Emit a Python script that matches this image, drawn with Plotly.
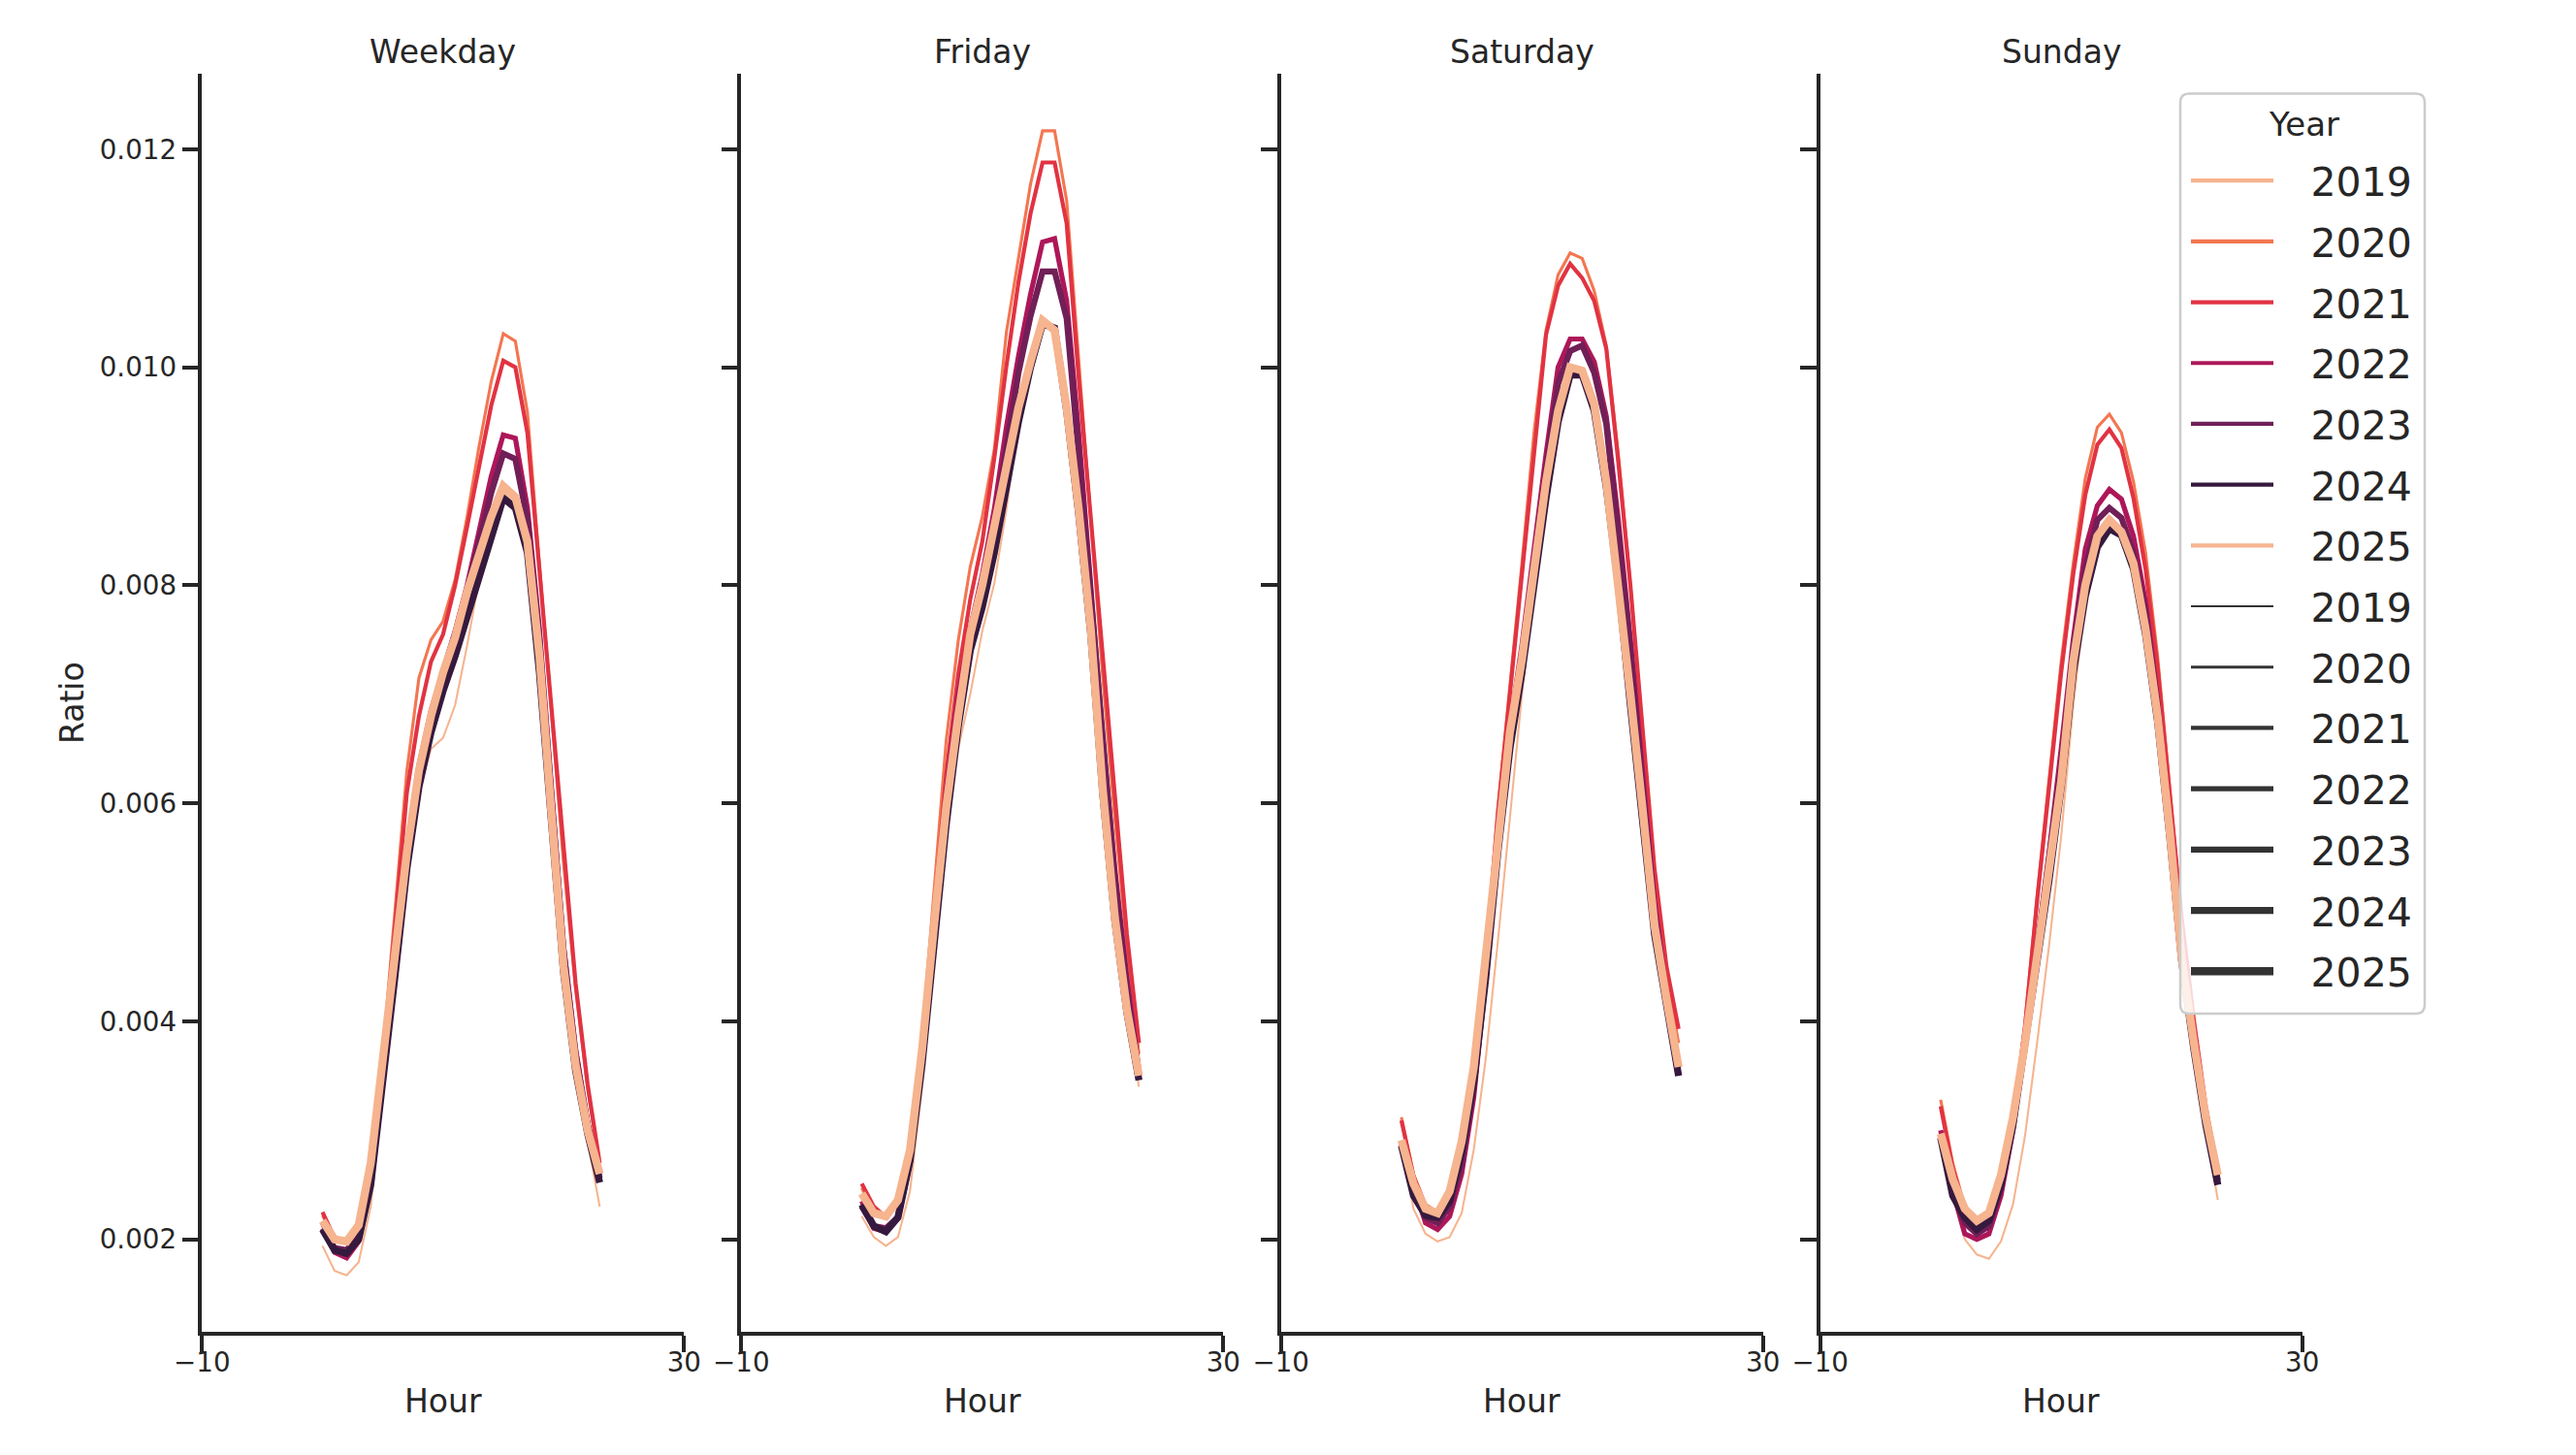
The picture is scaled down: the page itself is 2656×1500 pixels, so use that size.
import plotly.graph_objects as go

# ---------------- data ----------------
hours = list(range(24))
years = [2019, 2020, 2021, 2022, 2023, 2024, 2025]
panels = ["Weekday", "Friday", "Saturday", "Sunday"]
x_ticks = [-10, 30]
x_tick_labels = ["\u221210", "30"]
y_ticks = [0.002, 0.004, 0.006, 0.008, 0.010, 0.012]
y_tick_labels = ["0.002", "0.004", "0.006", "0.008", "0.010", "0.012"]

weekday_2019 = [0.00194, 0.00171, 0.00167, 0.00179, 0.00230, 0.00330, 0.00440, 0.00545, 0.00610, 0.00650, 0.00660, 0.00690, 0.00745, 0.00806, 0.00856, 0.00885, 0.00875, 0.00835, 0.00725, 0.00580, 0.00445, 0.00350, 0.00290, 0.00230]
weekday_2020 = [0.00222, 0.00200, 0.00199, 0.00213, 0.00270, 0.00370, 0.00500, 0.00630, 0.00715, 0.00750, 0.00767, 0.00805, 0.00863, 0.00928, 0.00987, 0.01031, 0.01024, 0.00959, 0.00820, 0.00680, 0.00545, 0.00430, 0.00338, 0.00265]
weekday_2021 = [0.00225, 0.00201, 0.00197, 0.00210, 0.00268, 0.00365, 0.00485, 0.00610, 0.00680, 0.00730, 0.00755, 0.00800, 0.00854, 0.00909, 0.00965, 0.01006, 0.01000, 0.00940, 0.00815, 0.00690, 0.00555, 0.00435, 0.00342, 0.00270]
weekday_2022 = [0.00215, 0.00188, 0.00183, 0.00198, 0.00250, 0.00345, 0.00455, 0.00555, 0.00635, 0.00685, 0.00722, 0.00758, 0.00800, 0.00850, 0.00900, 0.00938, 0.00935, 0.00871, 0.00760, 0.00615, 0.00470, 0.00375, 0.00308, 0.00258]
weekday_2023 = [0.00210, 0.00192, 0.00190, 0.00204, 0.00258, 0.00350, 0.00455, 0.00555, 0.00630, 0.00680, 0.00720, 0.00755, 0.00795, 0.00840, 0.00885, 0.00921, 0.00916, 0.00860, 0.00750, 0.00605, 0.00465, 0.00370, 0.00305, 0.00256]
weekday_2024 = [0.00209, 0.00190, 0.00187, 0.00200, 0.00250, 0.00340, 0.00440, 0.00540, 0.00615, 0.00665, 0.00703, 0.00735, 0.00770, 0.00808, 0.00845, 0.00880, 0.00871, 0.00830, 0.00720, 0.00575, 0.00445, 0.00355, 0.00297, 0.00252]
weekday_2025 = [0.00217, 0.00200, 0.00198, 0.00213, 0.00270, 0.00362, 0.00460, 0.00555, 0.00630, 0.00680, 0.00720, 0.00752, 0.00794, 0.00829, 0.00863, 0.00891, 0.00881, 0.00840, 0.00735, 0.00590, 0.00450, 0.00360, 0.00300, 0.00260]

friday_2019 = [0.00221, 0.00202, 0.00194, 0.00202, 0.00244, 0.00340, 0.00460, 0.00575, 0.00650, 0.00700, 0.00758, 0.00802, 0.00870, 0.00950, 0.01000, 0.01045, 0.01030, 0.00955, 0.00865, 0.00755, 0.00605, 0.00490, 0.00405, 0.00340]
friday_2020 = [0.00247, 0.00225, 0.00220, 0.00238, 0.00290, 0.00385, 0.00520, 0.00657, 0.00749, 0.00817, 0.00863, 0.00925, 0.01032, 0.01101, 0.01168, 0.01217, 0.01217, 0.01153, 0.01010, 0.00860, 0.00715, 0.00585, 0.00470, 0.00370]
friday_2021 = [0.00251, 0.00230, 0.00220, 0.00233, 0.00280, 0.00370, 0.00500, 0.00626, 0.00718, 0.00787, 0.00840, 0.00917, 0.01001, 0.01078, 0.01141, 0.01188, 0.01188, 0.01132, 0.00990, 0.00860, 0.00735, 0.00600, 0.00480, 0.00380]
friday_2022 = [0.00235, 0.00210, 0.00207, 0.00220, 0.00270, 0.00360, 0.00490, 0.00610, 0.00700, 0.00760, 0.00810, 0.00870, 0.00945, 0.01010, 0.01067, 0.01115, 0.01118, 0.01061, 0.00940, 0.00800, 0.00660, 0.00540, 0.00440, 0.00355]
friday_2023 = [0.00230, 0.00212, 0.00210, 0.00220, 0.00272, 0.00362, 0.00480, 0.00595, 0.00680, 0.00745, 0.00795, 0.00855, 0.00925, 0.00995, 0.01047, 0.01088, 0.01088, 0.01045, 0.00920, 0.00790, 0.00650, 0.00530, 0.00430, 0.00350]
friday_2024 = [0.00232, 0.00212, 0.00207, 0.00220, 0.00272, 0.00360, 0.00470, 0.00580, 0.00670, 0.00740, 0.00780, 0.00830, 0.00890, 0.00950, 0.01000, 0.01040, 0.01036, 0.00960, 0.00865, 0.00755, 0.00608, 0.00492, 0.00408, 0.00346]
friday_2025 = [0.00242, 0.00224, 0.00221, 0.00236, 0.00282, 0.00374, 0.00488, 0.00596, 0.00680, 0.00755, 0.00800, 0.00852, 0.00909, 0.00963, 0.01005, 0.01043, 0.01034, 0.00963, 0.00870, 0.00760, 0.00612, 0.00495, 0.00411, 0.00350]

saturday_2019 = [0.00290, 0.00228, 0.00205, 0.00198, 0.00202, 0.00224, 0.00282, 0.00366, 0.00473, 0.00590, 0.00700, 0.00800, 0.00885, 0.00955, 0.00998, 0.00995, 0.00962, 0.00892, 0.00800, 0.00695, 0.00590, 0.00485, 0.00420, 0.00360]
saturday_2020 = [0.00312, 0.00260, 0.00232, 0.00225, 0.00242, 0.00290, 0.00360, 0.00460, 0.00595, 0.00705, 0.00820, 0.00940, 0.01034, 0.01085, 0.01105, 0.01100, 0.01070, 0.01020, 0.00920, 0.00800, 0.00660, 0.00530, 0.00440, 0.00380]
saturday_2021 = [0.00309, 0.00258, 0.00230, 0.00222, 0.00240, 0.00288, 0.00358, 0.00458, 0.00590, 0.00700, 0.00810, 0.00920, 0.01030, 0.01075, 0.01095, 0.01082, 0.01061, 0.01017, 0.00913, 0.00800, 0.00670, 0.00540, 0.00450, 0.00393]
saturday_2022 = [0.00290, 0.00250, 0.00215, 0.00209, 0.00221, 0.00260, 0.00330, 0.00440, 0.00565, 0.00670, 0.00745, 0.00835, 0.00920, 0.01000, 0.01026, 0.01026, 0.01005, 0.00955, 0.00860, 0.00750, 0.00625, 0.00510, 0.00425, 0.00360]
saturday_2023 = [0.00288, 0.00245, 0.00220, 0.00215, 0.00230, 0.00270, 0.00340, 0.00445, 0.00565, 0.00665, 0.00735, 0.00825, 0.00905, 0.00985, 0.01015, 0.01020, 0.00995, 0.00948, 0.00848, 0.00741, 0.00615, 0.00500, 0.00420, 0.00358]
saturday_2024 = [0.00286, 0.00240, 0.00222, 0.00220, 0.00235, 0.00280, 0.00345, 0.00440, 0.00555, 0.00650, 0.00720, 0.00805, 0.00880, 0.00950, 0.00993, 0.00993, 0.00960, 0.00890, 0.00800, 0.00690, 0.00585, 0.00480, 0.00415, 0.00350]
saturday_2025 = [0.00291, 0.00251, 0.00228, 0.00224, 0.00244, 0.00290, 0.00358, 0.00458, 0.00570, 0.00665, 0.00732, 0.00818, 0.00895, 0.00960, 0.01000, 0.00997, 0.00966, 0.00895, 0.00803, 0.00700, 0.00596, 0.00488, 0.00420, 0.00358]

sunday_2019 = [0.00290, 0.00240, 0.00200, 0.00186, 0.00182, 0.00198, 0.00232, 0.00295, 0.00380, 0.00470, 0.00570, 0.00690, 0.00785, 0.00840, 0.00858, 0.00850, 0.00818, 0.00758, 0.00675, 0.00570, 0.00455, 0.00375, 0.00300, 0.00236]
sunday_2020 = [0.00328, 0.00270, 0.00230, 0.00212, 0.00212, 0.00250, 0.00310, 0.00400, 0.00515, 0.00620, 0.00730, 0.00820, 0.00898, 0.00945, 0.00957, 0.00940, 0.00895, 0.00830, 0.00735, 0.00615, 0.00495, 0.00400, 0.00320, 0.00260]
sunday_2021 = [0.00322, 0.00265, 0.00228, 0.00210, 0.00210, 0.00248, 0.00308, 0.00395, 0.00510, 0.00615, 0.00720, 0.00810, 0.00883, 0.00929, 0.00943, 0.00926, 0.00880, 0.00815, 0.00725, 0.00610, 0.00495, 0.00402, 0.00322, 0.00262]
sunday_2022 = [0.00300, 0.00245, 0.00205, 0.00200, 0.00205, 0.00240, 0.00300, 0.00380, 0.00470, 0.00555, 0.00650, 0.00750, 0.00833, 0.00873, 0.00888, 0.00879, 0.00845, 0.00785, 0.00695, 0.00585, 0.00470, 0.00385, 0.00312, 0.00255]
sunday_2023 = [0.00295, 0.00242, 0.00215, 0.00205, 0.00212, 0.00248, 0.00305, 0.00380, 0.00465, 0.00545, 0.00635, 0.00740, 0.00815, 0.00860, 0.00871, 0.00862, 0.00830, 0.00775, 0.00690, 0.00580, 0.00462, 0.00380, 0.00310, 0.00254]
sunday_2024 = [0.00293, 0.00240, 0.00220, 0.00209, 0.00217, 0.00250, 0.00305, 0.00375, 0.00455, 0.00530, 0.00615, 0.00720, 0.00790, 0.00835, 0.00852, 0.00846, 0.00815, 0.00755, 0.00675, 0.00570, 0.00455, 0.00375, 0.00305, 0.00250]
sunday_2025 = [0.00297, 0.00255, 0.00228, 0.00217, 0.00224, 0.00259, 0.00312, 0.00380, 0.00460, 0.00535, 0.00620, 0.00730, 0.00800, 0.00845, 0.00860, 0.00849, 0.00820, 0.00760, 0.00680, 0.00575, 0.00458, 0.00381, 0.00312, 0.00259]

series = {
    "Weekday": [weekday_2019, weekday_2020, weekday_2021, weekday_2022, weekday_2023, weekday_2024, weekday_2025],
    "Friday": [friday_2019, friday_2020, friday_2021, friday_2022, friday_2023, friday_2024, friday_2025],
    "Saturday": [saturday_2019, saturday_2020, saturday_2021, saturday_2022, saturday_2023, saturday_2024, saturday_2025],
    "Sunday": [sunday_2019, sunday_2020, sunday_2021, sunday_2022, sunday_2023, sunday_2024, sunday_2025],
}

# ---------------- style ----------------
OFF = 8                      # default page margin of the html body
W, H = 2656 - 2 * OFF, 1500 - 2 * OFF
FONT = "DejaVu Sans"
INK = "#262626"
year_colors = ["#f6b48f", "#f37651", "#e13342", "#ad1759", "#701f57", "#35193e", "#f6b48f"]
year_widths = [2.08, 3.12, 4.17, 5.21, 6.25, 7.29, 8.33]
hue_legend_width = 4.2
size_legend_color = "#333333"


def px(xr):   # reference pixel -> paper x
    return (xr - OFF) / W


def py(yr):   # reference pixel -> paper y
    return 1 - (yr - OFF) / H


panel_left_px = [208.3, 764.3, 1320.7, 1876.7]
panel_width_px = 497.0
plot_top_px, plot_bottom_px = 76.0, 1373.0
y_range = [0.001151, 0.012694]
x_range = [-10, 30]

fig = go.Figure()

for i, panel in enumerate(panels):
    xa = "x" if i == 0 else f"x{i+1}"
    ya = "y" if i == 0 else f"y{i+1}"
    for k, (yr, vals) in enumerate(zip(years, series[panel])):
        fig.add_trace(go.Scatter(
            x=hours, y=vals, mode="lines", xaxis=xa, yaxis=ya,
            line=dict(color=year_colors[k], width=year_widths[k]),
            showlegend=False, hoverinfo="skip",
        ))


# legend entries: hue (colour) then size (width)
def label(yr):
    return "\u2002\u00a0" + str(yr) + "\u2006"


for k, yr in enumerate(years):
    fig.add_trace(go.Scatter(
        x=[None], y=[None], mode="lines", name=label(yr),
        line=dict(color=year_colors[k], width=hue_legend_width),
        legendgroup=f"hue{yr}", showlegend=True,
    ))
for k, yr in enumerate(years):
    fig.add_trace(go.Scatter(
        x=[None], y=[None], mode="lines", name=label(yr),
        line=dict(color=size_legend_color, width=year_widths[k]),
        legendgroup=f"size{yr}", showlegend=True,
    ))

y_dom = [py(plot_bottom_px), py(plot_top_px)]
layout = dict(
    width=W, height=H,
    margin=dict(l=0, r=0, t=0, b=0),
    paper_bgcolor="white", plot_bgcolor="white",
    font=dict(family=FONT, color=INK),
    showlegend=True,
    legend=dict(
        x=px(2254), y=py(153), xanchor="left", yanchor="top",
        bgcolor="rgba(0,0,0,0)", borderwidth=0,
        font=dict(family=FONT, size=41, color=INK),
        traceorder="grouped", tracegroupgap=6.4, itemwidth=85,
    ),
)

for i, panel in enumerate(panels):
    xl = panel_left_px[i]
    xd = [px(xl), px(xl + panel_width_px)]
    xkey = "xaxis" if i == 0 else f"xaxis{i+1}"
    ykey = "yaxis" if i == 0 else f"yaxis{i+1}"
    ya = "y" if i == 0 else f"y{i+1}"
    xa = "x" if i == 0 else f"x{i+1}"
    layout[xkey] = dict(
        domain=xd, anchor=ya, range=x_range, tickmode="array",
        tickvals=x_ticks, ticktext=x_tick_labels,
        showline=True, linecolor=INK, linewidth=3.5,
        ticks="outside", ticklen=17, tickwidth=3.5, tickcolor=INK,
        showgrid=False, zeroline=False, ticklabelstandoff=-13,
        tickfont=dict(family=FONT, size=27.7, color=INK), automargin=False,
    )
    layout[ykey] = dict(
        domain=y_dom, anchor=xa, range=y_range, tickmode="array",
        tickvals=y_ticks, ticktext=y_tick_labels, showticklabels=(i == 0),
        showline=True, linecolor=INK, linewidth=3.5,
        ticks="outside", ticklen=17, tickwidth=3.5, tickcolor=INK,
        showgrid=False, zeroline=False,
        tickfont=dict(family=FONT, size=27.7, color=INK), automargin=False,
    )

annotations = []
for i, panel in enumerate(panels):
    cx = px(panel_left_px[i] + panel_width_px / 2)
    annotations.append(dict(text=panel, x=cx, y=py(53), xref="paper", yref="paper",
                            xanchor="center", yanchor="middle", showarrow=False,
                            font=dict(family=FONT, size=33, color=INK)))
    annotations.append(dict(text="Hour", x=cx, y=py(1444), xref="paper", yref="paper",
                            xanchor="center", yanchor="middle", showarrow=False,
                            font=dict(family=FONT, size=33, color=INK)))
annotations.append(dict(text="Ratio", x=px(74.5), y=py(724.5), xref="paper", yref="paper",
                        xanchor="center", yanchor="middle", textangle=-90, showarrow=False,
                        font=dict(family=FONT, size=33, color=INK)))
annotations.append(dict(text="Year", x=px(2375), y=py(128), xref="paper", yref="paper",
                        xanchor="center", yanchor="middle", showarrow=False,
                        font=dict(family=FONT, size=34, color=INK)))
layout["annotations"] = annotations

# legend frame (rounded, semi-transparent white)
x0, x1, y0, y1, r = 2248.0, 2500.0, 96.5, 1045.0, 9.0
rx, ry = r / W, r / H
X0, X1, Y0, Y1 = px(x0), px(x1), py(y0), py(y1)
frame = (f"M {X0 + rx},{Y0} L {X1 - rx},{Y0} Q {X1},{Y0} {X1},{Y0 - ry} "
         f"L {X1},{Y1 + ry} Q {X1},{Y1} {X1 - rx},{Y1} "
         f"L {X0 + rx},{Y1} Q {X0},{Y1} {X0},{Y1 + ry} "
         f"L {X0},{Y0 - ry} Q {X0},{Y0} {X0 + rx},{Y0} Z")
layout["shapes"] = [dict(type="path", path=frame, xref="paper", yref="paper",
                         fillcolor="rgba(255,255,255,0.8)", line=dict(color="#cccccc", width=2.5),
                         layer="above")]

fig.update_layout(**layout)
fig.write_html("out.html")
